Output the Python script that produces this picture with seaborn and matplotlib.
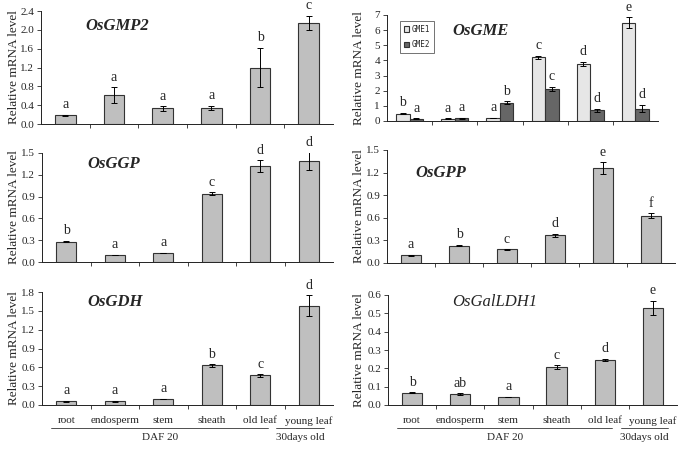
import numpy as np
import pandas as pd
import matplotlib
matplotlib.use("Agg")
import matplotlib.pyplot as plt
import matplotlib.transforms as mtrans
import seaborn as sns

tissues = ["root", "endosperm", "stem", "sheath", "old leaf", "young leaf"]

gmp2_vals = [0.19, 0.61, 0.33, 0.34, 1.20, 2.15]
gmp2_err = [0.01, 0.17, 0.05, 0.05, 0.42, 0.15]
gmp2_sig = ["a", "a", "a", "a", "b", "c"]

gme1_vals = [0.49, 0.15, 0.20, 4.20, 3.77, 6.50]
gme1_err = [0.05, 0.03, 0.03, 0.12, 0.15, 0.35]
gme1_sig = ["b", "a", "a", "c", "d", "e"]
gme2_vals = [0.15, 0.17, 1.21, 2.10, 0.70, 0.82]
gme2_err = [0.03, 0.04, 0.10, 0.15, 0.10, 0.25]
gme2_sig = ["a", "a", "b", "c", "d", "d"]

ggp_vals = [0.28, 0.096, 0.124, 0.94, 1.32, 1.39]
ggp_err = [0.01, 0.005, 0.006, 0.02, 0.08, 0.12]
ggp_sig = ["b", "a", "a", "c", "d", "d"]

gpp_vals = [0.10, 0.23, 0.18, 0.37, 1.26, 0.63]
gpp_err = [0.01, 0.01, 0.005, 0.02, 0.08, 0.03]
gpp_sig = ["a", "b", "c", "d", "e", "f"]

gdh_vals = [0.06, 0.06, 0.10, 0.63, 0.47, 1.58]
gdh_err = [0.005, 0.005, 0.003, 0.02, 0.02, 0.17]
gdh_sig = ["a", "a", "a", "b", "c", "d"]

galldh_vals = [0.067, 0.06, 0.043, 0.207, 0.246, 0.53]
galldh_err = [0.003, 0.005, 0.002, 0.01, 0.006, 0.04]
galldh_sig = ["b", "ab", "a", "c", "d", "e"]

W, H = 680, 453
sns.set_theme(style="ticks")
plt.rcParams["font.family"] = ["Liberation Serif", "DejaVu Serif"]
fig = plt.figure(figsize=(W / 100, H / 100), dpi=100)
fig.patch.set_facecolor("white")


def px_axes(l, t, r, b):
    return fig.add_axes([l / W, 1 - b / H, (r - l) / W, (b - t) / H])


def style_axis(ax, ymax, step, fmt, bottom_labels):
    ax.set_xlim(-0.5, 5.5)
    ax.set_ylim(0, ymax)
    ticks = np.round(np.arange(0, ymax + step / 2, step), 3)
    ax.set_yticks(ticks)
    ax.set_yticklabels([fmt.format(t) for t in ticks], fontsize=8)
    ax.set_xticks([0.5, 1.5, 2.5, 3.5, 4.5])
    ax.set_xticklabels([])
    ax.set_xticks(range(6), minor=True)
    if bottom_labels:
        ax.set_xticklabels(tissues, minor=True, fontsize=8)
    else:
        ax.set_xticklabels([], minor=True)
    ax.tick_params(axis="x", which="minor", length=0, pad=8)
    ax.tick_params(axis="x", which="major", length=3, width=0.6, direction="out")
    ax.tick_params(axis="y", length=3, width=0.6, pad=2)
    ax.set_xlabel("")
    ax.set_ylabel("")
    for s in ["top", "right"]:
        ax.spines[s].set_visible(False)
    for s in ["left", "bottom"]:
        ax.spines[s].set_linewidth(0.7)
        ax.spines[s].set_color("#222222")
    ax.set_facecolor("white")


def add_err_sig(ax, container, errs, sigs):
    for bar, e, s in zip(container, errs, sigs):
        x = bar.get_x() + bar.get_width() / 2
        h = bar.get_height()
        ax.errorbar(x, h, yerr=e, fmt="none", ecolor="black", elinewidth=0.7,
                    capsize=2.2, capthick=0.7)
        ax.annotate(s, (x, h + e), xytext=(0, 2.5), textcoords="offset points",
                    ha="center", va="bottom", fontsize=10, annotation_clip=False)


def single_panel(rect, vals, errs, sigs, ymax, step, fmt, bottom):
    ax = px_axes(*rect)
    df = pd.DataFrame({"tissue": tissues, "value": vals})
    sns.barplot(data=df, x="tissue", y="value", color="#bfbfbf", saturation=1,
                edgecolor="#333333", linewidth=0.8, width=0.42, errorbar=None, ax=ax)
    add_err_sig(ax, ax.containers[0], errs, sigs)
    style_axis(ax, ymax, step, fmt, bottom)
    return ax


def bottom_groups(ax):
    lt = mtrans.offset_copy(ax.get_xaxis_transform(), fig=fig, x=0, y=-23, units="dots")
    ax.plot([-0.32, 4.16], [0, 0], transform=lt, color="#333333", lw=0.6, clip_on=False)
    ax.plot([4.33, 5.31], [0, 0], transform=lt, color="#333333", lw=0.6, clip_on=False)
    tt = mtrans.offset_copy(ax.get_xaxis_transform(), fig=fig, x=0, y=-33, units="dots")
    ax.text(1.93, 0, "DAF 20", transform=tt, ha="center", va="center", fontsize=8)
    ax.text(4.82, 0, "30days old", transform=tt, ha="center", va="center", fontsize=8)


# Panel 1: OsGMP2
single_panel((41, 11, 333, 124), gmp2_vals, gmp2_err, gmp2_sig, 2.4, 0.4, "{:.1f}", False)

# Panel 2: OsGME (two series)
ax2 = px_axes(387, 15, 658, 121)
df2 = pd.DataFrame({
    "tissue": tissues * 2,
    "value": gme1_vals + gme2_vals,
    "gene": ["GME1"] * 6 + ["GME2"] * 6,
})
sns.barplot(data=df2, x="tissue", y="value", hue="gene",
            palette={"GME1": "#e6e6e6", "GME2": "#666666"}, saturation=1,
            edgecolor="#333333", linewidth=0.8, width=0.6, errorbar=None, ax=ax2)
add_err_sig(ax2, ax2.containers[0], gme1_err, gme1_sig)
add_err_sig(ax2, ax2.containers[1], gme2_err, gme2_sig)
style_axis(ax2, 7, 1, "{:.0f}", False)
leg = ax2.legend(loc="upper left", bbox_to_anchor=(0.035, 0.98), frameon=True,
                 fancybox=False, edgecolor="#333333",
                 handlelength=0.7, handleheight=0.7, handletextpad=0.3,
                 labelspacing=0.8, borderpad=0.5,
                 prop={"family": "DejaVu Sans Mono", "size": 5.5})
leg.get_frame().set_linewidth(0.6)

# Panel 3: OsGGP
single_panel((42, 153, 333, 262), ggp_vals, ggp_err, ggp_sig, 1.5, 0.3, "{:.1f}", False)
# Panel 4: OsGPP
single_panel((387, 150, 675, 263), gpp_vals, gpp_err, gpp_sig, 1.5, 0.3, "{:.1f}", False)
# Panel 5: OsGDH
ax5 = single_panel((42, 292, 333, 405), gdh_vals, gdh_err, gdh_sig, 1.8, 0.3, "{:.1f}", True)
bottom_groups(ax5)
# Panel 6: OsGalLDH1
ax6 = single_panel((388, 295, 677, 405), galldh_vals, galldh_err, galldh_sig, 0.6, 0.1, "{:.1f}", True)
bottom_groups(ax6)


def ftext(x, y, s, **kw):
    fig.text(x / W, 1 - y / H, s, **kw)


ftext(85, 26, "OsGMP2", fontsize=12, style="italic", weight="bold", va="center")
ftext(452, 31, "OsGME", fontsize=12, style="italic", weight="bold", va="center")
ftext(87, 164, "OsGGP", fontsize=12, style="italic", weight="bold", va="center")
ftext(415, 173, "OsGPP", fontsize=12, style="italic", weight="bold", va="center")
ftext(87, 302, "OsGDH", fontsize=12, style="italic", weight="bold", va="center")
ftext(452, 302, "OsGalLDH1", fontsize=12, style="italic", va="center")

for xc, yc in [(14, 67), (359, 68), (14, 207), (359, 206), (14, 348), (359, 350)]:
    ftext(xc, yc, "Relative mRNA level", fontsize=9.5, rotation=90, ha="center", va="center")

fig.savefig("out.png", dpi=100, facecolor="white")
